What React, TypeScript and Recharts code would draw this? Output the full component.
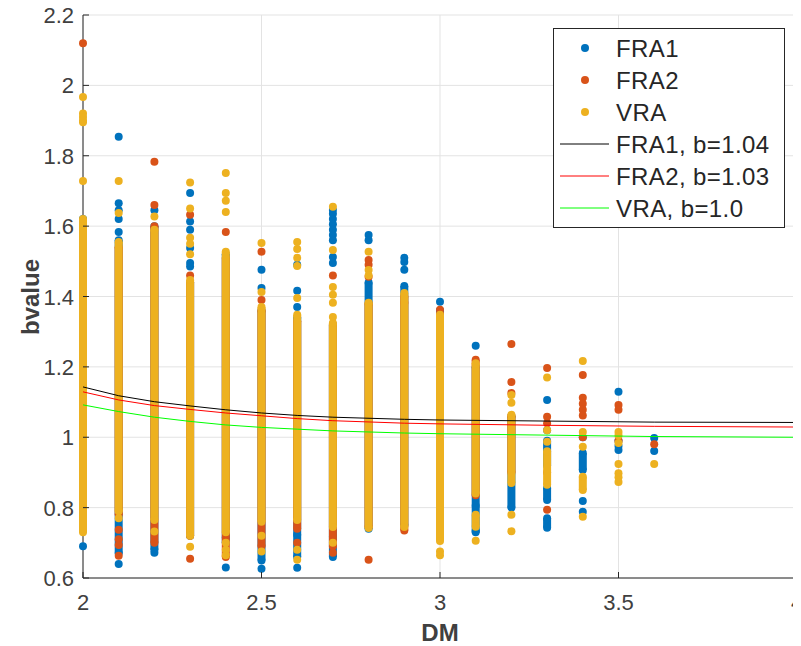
import React from 'react';
import { ComposedChart, Scatter, XAxis, YAxis, CartesianGrid } from 'recharts';

// ---------- data ----------
const DM_TICKS = [2, 2.5, 3, 3.5, 4];
const BVALUE_TICKS = [0.6, 0.8, 1, 1.2, 1.4, 1.6, 1.8, 2, 2.2];

const SERIES_NAMES = ['FRA1', 'FRA2', 'VRA'];
const FIT_LABELS = ['FRA1, b=1.04', 'FRA2, b=1.03', 'VRA, b=1.0'];

// dense clouds of points: [DM, lowest b, highest b]
const FRA1_RANGES: [number, number, number][] = [
  [2.0, 0.74, 1.62], [2.1, 0.67, 1.56], [2.2, 0.68, 1.6], [2.3, 0.72, 1.44],
  [2.4, 0.7, 1.52], [2.5, 0.65, 1.36], [2.6, 0.66, 1.34], [2.7, 0.66, 1.32],
  [2.8, 0.74, 1.44], [2.9, 0.75, 1.43], [3.0, 0.72, 1.36], [3.1, 0.73, 1.2],
  [3.2, 0.8, 1.06], [3.3, 0.743, 0.77], [3.3, 0.822, 0.856], [3.3, 0.92, 0.99],
  [3.4, 0.907, 0.955],
];
const FRA1_POINTS: [number, number][] = [
  [2.0, 0.69], [2.0, 1.6],
  [2.1, 1.854], [2.1, 1.665], [2.1, 1.645], [2.1, 1.62], [2.1, 1.583], [2.1, 0.64],
  [2.2, 1.645], [2.2, 0.672],
  [2.3, 1.694], [2.3, 1.613], [2.3, 1.59], [2.3, 1.538], [2.3, 1.495], [2.3, 1.485],
  [2.4, 0.63], [2.4, 0.715],
  [2.5, 1.476], [2.5, 1.424], [2.5, 0.626],
  [2.6, 1.49], [2.6, 1.416], [2.6, 1.37], [2.6, 0.723], [2.6, 0.629],
  [2.7, 1.646], [2.7, 1.635], [2.7, 1.62], [2.7, 1.605], [2.7, 1.59], [2.7, 1.575], [2.7, 1.56],
  [2.7, 1.512], [2.7, 1.495], [2.7, 0.717],
  [2.8, 1.575], [2.8, 1.56],
  [2.9, 1.51], [2.9, 1.498], [2.9, 1.476],
  [3.0, 1.385],
  [3.1, 1.26], [3.1, 0.805], [3.1, 0.734],
  [3.3, 1.106], [3.3, 1.02],
  [3.4, 0.819], [3.4, 0.788], [3.4, 1.0],
  [3.5, 1.129], [3.5, 0.99], [3.5, 0.975], [3.5, 0.964],
  [3.6, 0.998], [3.6, 0.961],
];

const FRA2_RANGES: [number, number, number][] = [
  [2.0, 0.76, 1.6], [2.1, 0.78, 1.54], [2.2, 0.7, 1.6], [2.3, 0.72, 1.44],
  [2.4, 0.66, 1.51], [2.5, 0.69, 1.36], [2.6, 0.74, 1.33], [2.7, 0.69, 1.32],
  [2.8, 0.745, 1.38], [2.9, 0.735, 1.4], [3.0, 0.72, 1.35], [3.1, 0.835, 1.22],
  [3.2, 0.9, 1.06],
];
const FRA2_POINTS: [number, number][] = [
  [2.0, 2.12], [2.0, 1.55],
  [2.1, 0.737], [2.1, 0.71], [2.1, 0.694], [2.1, 0.663],
  [2.2, 1.783], [2.2, 1.66],
  [2.3, 1.632], [2.3, 1.46], [2.3, 0.655],
  [2.4, 1.583],
  [2.5, 1.527], [2.5, 1.39],
  [2.6, 0.7],
  [2.7, 1.46], [2.7, 0.672],
  [2.8, 1.504], [2.8, 1.49], [2.8, 1.456], [2.8, 0.652],
  [2.9, 1.382],
  [3.0, 1.362],
  [3.2, 1.265], [3.2, 1.157], [3.2, 1.126],
  [3.3, 1.197], [3.3, 1.058], [3.3, 1.04], [3.3, 0.9], [3.3, 0.794],
  [3.4, 1.177], [3.4, 1.112], [3.4, 1.095], [3.4, 1.078], [3.4, 1.062], [3.4, 1.0],
  [3.5, 1.092], [3.5, 1.078], [3.5, 0.99],
  [3.6, 0.98],
];

const VRA_RANGES: [number, number, number][] = [
  [2.0, 0.73, 1.62], [2.1, 0.79, 1.555], [2.2, 0.765, 1.59], [2.3, 0.72, 1.447],
  [2.4, 0.73, 1.527], [2.5, 0.76, 1.37], [2.6, 0.765, 1.348], [2.7, 0.745, 1.325],
  [2.8, 0.742, 1.382], [2.9, 0.745, 1.41], [3.0, 0.705, 1.348], [3.1, 0.84, 1.21],
  [3.1, 0.746, 0.78], [3.2, 0.87, 1.064], [3.3, 0.865, 0.96], [3.4, 0.85, 0.888],
];
const VRA_POINTS: [number, number][] = [
  [2.0, 1.967], [2.0, 1.92], [2.0, 1.91], [2.0, 1.9], [2.0, 1.895], [2.0, 1.728],
  [2.1, 1.728], [2.1, 1.637], [2.1, 0.77],
  [2.2, 1.627], [2.2, 0.732],
  [2.3, 1.724], [2.3, 1.65], [2.3, 1.567], [2.3, 1.55], [2.3, 1.52], [2.3, 0.689],
  [2.4, 1.751], [2.4, 1.694], [2.4, 1.672], [2.4, 1.64], [2.4, 0.7], [2.4, 0.68], [2.4, 0.665],
  [2.5, 1.552], [2.5, 1.413], [2.5, 0.72], [2.5, 0.675],
  [2.6, 1.555], [2.6, 1.535], [2.6, 1.51], [2.6, 1.487], [2.6, 1.396], [2.6, 0.68], [2.6, 0.652],
  [2.7, 1.655], [2.7, 1.532], [2.7, 1.427], [2.7, 1.405], [2.7, 1.382], [2.7, 1.342], [2.7, 0.7],
  [2.8, 1.527], [2.8, 1.475], [2.8, 1.46],
  [3.0, 0.675], [3.0, 0.665],
  [3.1, 0.706],
  [3.2, 1.12], [3.2, 1.098], [3.2, 0.78], [3.2, 0.733],
  [3.3, 1.17], [3.3, 1.02], [3.3, 0.987],
  [3.4, 1.217], [3.4, 1.015], [3.4, 0.973], [3.4, 0.774],
  [3.5, 1.015], [3.5, 1.005], [3.5, 0.984], [3.5, 0.924], [3.5, 0.898], [3.5, 0.886], [3.5, 0.873],
  [3.6, 0.924],
];

// fitted curves
const FIT_DM = [2.0, 2.1, 2.2, 2.3, 2.4, 2.5, 2.6, 2.7, 2.9, 3.0, 3.3, 3.6, 4.0];
const FIT_FRA1 = [1.143, 1.118, 1.101, 1.089, 1.078, 1.069, 1.062, 1.057, 1.051, 1.049, 1.046, 1.043, 1.042];
const FIT_FRA2 = [1.129, 1.106, 1.09, 1.079, 1.069, 1.061, 1.053, 1.047, 1.04, 1.038, 1.034, 1.031, 1.029];
const FIT_VRA = [1.092, 1.073, 1.057, 1.045, 1.035, 1.028, 1.023, 1.018, 1.012, 1.01, 1.006, 1.002, 1.0];

// ---------- styling ----------
const SERIES_COLORS = ['#0072BD', '#D95319', '#EDB120'];
const FIT_COLORS = ['#000000', '#FF0000', '#00FF00'];
const FONT = '"Liberation Sans", Arial, Helvetica, sans-serif';
const AXIS_COLOR = '#262626';
const TEXT_COLOR = '#404040';

const W = 793;
const H = 638;
const MARGIN = { top: 7, right: 4, bottom: 0, left: 0 };
const Y_AXIS_W = 75;
const X_AXIS_H = 68;

const makeDot = (color: string) => (props: any) => {
  const { cx, cy } = props;
  if (cx == null || cy == null) return <g />;
  return <circle cx={cx} cy={cy} r={4} fill={color} />;
};
const noDot = () => <g />;

const YTick = (props: any) => {
  const { x, y, payload } = props;
  return (
    <g>
      <line x1={x} x2={x + 6} y1={y} y2={y} stroke={AXIS_COLOR} strokeWidth={1} />
      <text x={x - 9} y={y + 8} textAnchor="end" fontSize={22} fill={TEXT_COLOR} fontFamily={FONT}>
        {String(payload.value)}
      </text>
    </g>
  );
};

const XTick = (props: any) => {
  const { x, y, payload } = props;
  return (
    <g>
      <line x1={x} x2={x} y1={y} y2={y - 6} stroke={AXIS_COLOR} strokeWidth={1} />
      <text x={x} y={y + 32} textAnchor="middle" fontSize={22} fill={TEXT_COLOR} fontFamily={FONT}>
        {String(payload.value)}
      </text>
    </g>
  );
};

const SERIES = [
  { name: SERIES_NAMES[0], color: SERIES_COLORS[0], ranges: FRA1_RANGES, points: FRA1_POINTS },
  { name: SERIES_NAMES[1], color: SERIES_COLORS[1], ranges: FRA2_RANGES, points: FRA2_POINTS },
  { name: SERIES_NAMES[2], color: SERIES_COLORS[2], ranges: VRA_RANGES, points: VRA_POINTS },
];
const FITS = [FIT_FRA1, FIT_FRA2, FIT_VRA].map((vals, i) => ({
  name: FIT_LABELS[i],
  color: FIT_COLORS[i],
  data: FIT_DM.map((x, j) => ({ x, y: vals[j] })),
}));

const LEGEND_X = 545;
const LEGEND_Y = 20;
const LEGEND_W = 231;
const ROW_H = 32;

export default function App() {
  const scatters: React.ReactNode[] = [];
  SERIES.forEach((s) => {
    s.ranges.forEach(([dm, lo, hi], i) => {
      scatters.push(
        <Scatter
          key={`${s.name}-range-${i}`}
          data={[{ x: dm, y: lo }, { x: dm, y: hi }]}
          fill={s.color}
          line={{ stroke: s.color, strokeWidth: 8 }}
          shape={makeDot(s.color)}
          isAnimationActive={false}
        />
      );
    });
    scatters.push(
      <Scatter
        key={`${s.name}-points`}
        data={s.points.map(([x, y]) => ({ x, y }))}
        fill={s.color}
        shape={makeDot(s.color)}
        isAnimationActive={false}
      />
    );
  });
  FITS.forEach((f) => {
    scatters.push(
      <Scatter
        key={`fit-${f.name}`}
        data={f.data}
        fill={f.color}
        line={{ stroke: f.color, strokeWidth: 1 }}
        shape={noDot}
        isAnimationActive={false}
      />
    );
  });

  const legendRows = [
    ...SERIES.map((s) => ({ label: s.name, color: s.color, kind: 'dot' })),
    ...FITS.map((f) => ({ label: f.name, color: f.color, kind: 'line' })),
  ];

  return (
    <div style={{ position: 'relative', width: W, height: H }}>
      <style>{'body{overflow:hidden}'}</style>
      <ComposedChart width={W} height={H} margin={MARGIN}>
        <CartesianGrid stroke="#e3e3e3" strokeWidth={1} />
        <XAxis
          type="number"
          dataKey="x"
          domain={[2, 4]}
          ticks={DM_TICKS}
          height={X_AXIS_H}
          tickSize={0}
          tickMargin={0}
          tickLine={false}
          tick={<XTick />}
          axisLine={{ stroke: AXIS_COLOR, strokeWidth: 1 }}
          interval={0}
        />
        <YAxis
          type="number"
          dataKey="y"
          domain={[0.6, 2.2]}
          ticks={BVALUE_TICKS}
          width={Y_AXIS_W}
          tickSize={0}
          tickMargin={0}
          tickLine={false}
          tick={<YTick />}
          axisLine={{ stroke: AXIS_COLOR, strokeWidth: 1 }}
          interval={0}
        />
        {scatters}
      </ComposedChart>
      <svg
        width={W}
        height={H}
        style={{ position: 'absolute', left: 0, top: 0, pointerEvents: 'none' }}
        fontFamily={FONT}
      >
        <text x={432} y={633} textAnchor="middle" fontWeight="bold" fontSize={24} fill={TEXT_COLOR}>
          DM
        </text>
        <text
          transform="translate(31,289) rotate(-90)"
          textAnchor="middle"
          fontWeight="bold"
          fontSize={24}
          fill={TEXT_COLOR}
        >
          bvalue
        </text>
        <rect
          x={LEGEND_X + 0.5}
          y={LEGEND_Y + 0.5}
          width={LEGEND_W}
          height={ROW_H * legendRows.length + 7}
          fill="#ffffff"
          stroke={AXIS_COLOR}
          strokeWidth={1}
        />
        {legendRows.map((r, i) => {
          const cy = LEGEND_Y + 20 + i * ROW_H;
          return (
            <g key={r.label}>
              {r.kind === 'dot' ? (
                <circle cx={LEGEND_X + 32} cy={cy} r={4} fill={r.color} />
              ) : (
                <line x1={LEGEND_X + 7} x2={LEGEND_X + 56} y1={cy} y2={cy} stroke={r.color} strokeWidth={1} />
              )}
              <text x={LEGEND_X + 63} y={cy + 8.5} fontSize={24} fill="#262626" letterSpacing={0.4}>
                {r.label}
              </text>
            </g>
          );
        })}
      </svg>
    </div>
  );
}
